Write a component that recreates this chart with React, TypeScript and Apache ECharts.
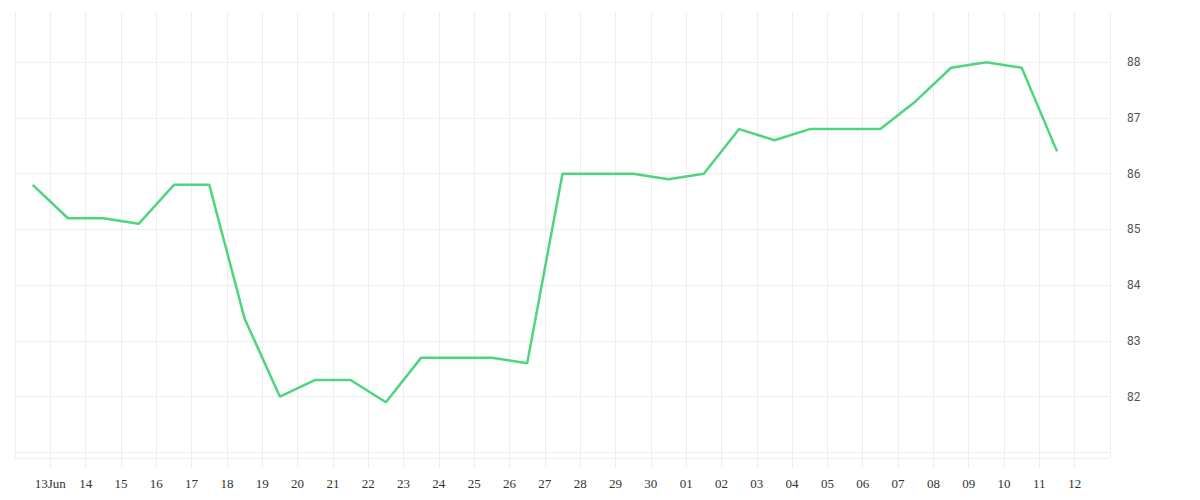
import { useEffect, useRef } from "react";
import * as echarts from "echarts";

// day boundaries 12 Jun .. 13 Jul (first and last not labelled)
const dayLabels = [
  "12", "13Jun", "14", "15", "16", "17", "18", "19", "20", "21", "22", "23",
  "24", "25", "26", "27", "28", "29", "30", "01", "02", "03", "04", "05",
  "06", "07", "08", "09", "10", "11", "12", "13",
];

// one reading per day, taken at midday (12 Jun .. 11 Jul)
const values = [
  85.8, 85.2, 85.2, 85.1, 85.8, 85.8, 83.4, 82.0, 82.3, 82.3, 81.9, 82.7,
  82.7, 82.7, 82.6, 86.0, 86.0, 86.0, 85.9, 86.0, 86.8, 86.6, 86.8, 86.8,
  86.8, 87.3, 87.9, 88.0, 87.9, 86.4,
];

const yMin = 80.9;
const yMax = 88.9;

const gridColor = "#eeeeee";

const App = () => {
  const chartRef = useRef<HTMLDivElement>(null);

  useEffect(() => {
    if (!chartRef.current) return;

    const chart = echarts.init(chartRef.current, null, { renderer: "svg" });
    const points = values.map((v, i) => [i + 0.5, v]);

    chart.setOption({
      animation: false,
      grid: { left: 15, right: 90, top: 12, bottom: 42 },
      xAxis: {
        type: "value",
        min: 0,
        max: dayLabels.length - 1,
        interval: 1,
        axisLine: { show: true, lineStyle: { color: gridColor, width: 1 } },
        axisTick: { show: true, length: 10, lineStyle: { color: gridColor } },
        splitLine: { show: true, lineStyle: { color: gridColor } },
        axisLabel: {
          showMinLabel: false,
          showMaxLabel: false,
          margin: 19,
          color: "#333",
          fontFamily: "Liberation Serif",
          fontSize: 13,
          formatter: (v: number) => dayLabels[Math.round(v)] ?? "",
        },
      },
      yAxis: {
        type: "value",
        position: "right",
        min: yMin,
        max: yMax,
        splitNumber: 8,
        axisLine: { show: false },
        axisTick: { show: false },
        splitLine: {
          show: true,
          showMaxLine: false,
          lineStyle: { color: gridColor },
        },
        axisLabel: {
          showMinLabel: false,
          showMaxLabel: false,
          margin: 17,
          padding: [5, 0, 0, 0],
          color: "#555",
          fontFamily: "Roboto",
          fontSize: 12,
          formatter: (v: number) =>
            Number.isInteger(v) && v >= 82 ? String(v) : "",
        },
      },
      series: [
        {
          type: "line",
          data: points,
          showSymbol: false,
          symbol: "none",
          lineStyle: { color: "#4fd47f", width: 2.5 },
          itemStyle: { color: "#4fd47f" },
        },
      ],
    });

    return () => {
      chart.dispose();
    };
  }, []);

  return (
    <div
      ref={chartRef}
      style={{ position: "absolute", left: 0, top: 0, width: 1200, height: 500 }}
    />
  );
};

export default App;
